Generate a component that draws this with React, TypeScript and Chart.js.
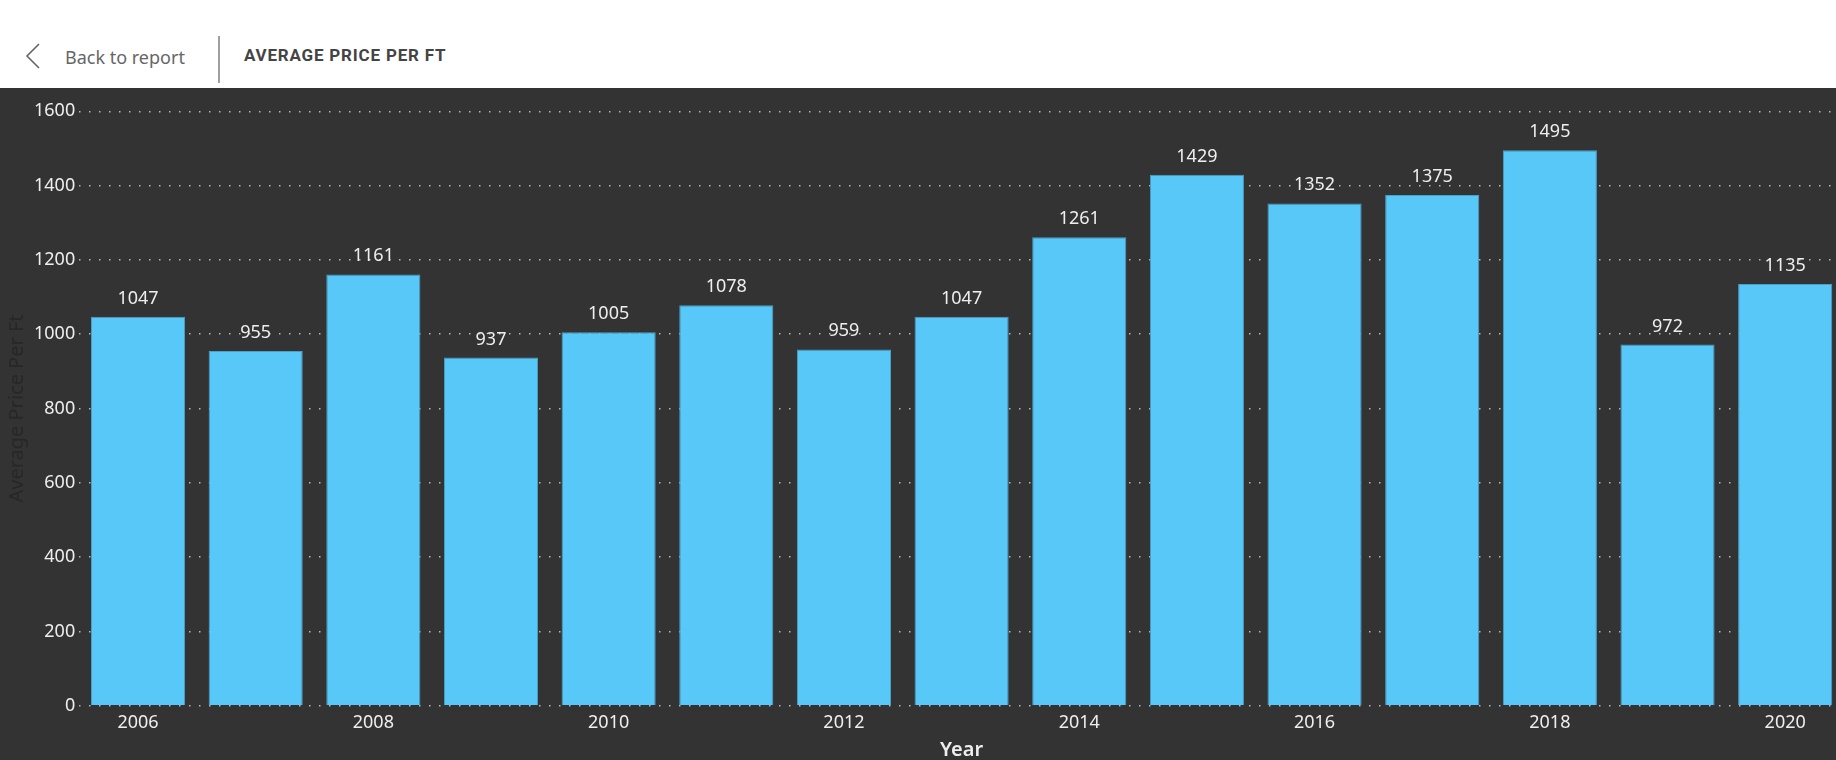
import React, { useEffect, useRef } from "react";
import { Chart, ChartConfiguration, Plugin, registerables } from "chart.js";
Chart.register(...registerables);

const years = ["2006", "2007", "2008", "2009", "2010", "2011", "2012", "2013", "2014", "2015", "2016", "2017", "2018", "2019", "2020"];
const avgPrice = [1047, 955, 1161, 937, 1005, 1078, 959, 1047, 1261, 1429, 1352, 1375, 1495, 972, 1135];
const yTicks = [0, 200, 400, 600, 800, 1000, 1200, 1400, 1600];

const FONT = "'Noto Sans', 'Open Sans', sans-serif";

// draws the value above each bar
const valueLabels: Plugin<"bar"> = {
  id: "valueLabels",
  afterDatasetsDraw(chart) {
    const ctx = chart.ctx;
    const meta = chart.getDatasetMeta(0);
    ctx.save();
    ctx.font = `18px ${FONT}`;
    ctx.fillStyle = "#eeeeee";
    ctx.textAlign = "center";
    ctx.textBaseline = "alphabetic";
    meta.data.forEach((bar: any, i) => {
      ctx.fillText(String(avgPrice[i]), bar.x, bar.y - 13);
    });
    ctx.restore();
  },
};

const PriceChart: React.FC = () => {
  const chartRef = useRef<HTMLCanvasElement>(null);

  useEffect(() => {
    if (!chartRef.current) return;
    const config: ChartConfiguration<"bar"> = {
      type: "bar",
      data: {
        labels: years,
        datasets: [
          {
            label: "Average Price Per Ft",
            data: avgPrice,
            backgroundColor: "#57c8f8",
            borderColor: "#4d9fc6",
            borderWidth: 1,
            categoryPercentage: 1,
            barPercentage: 0.8,
          },
        ],
      },
      options: {
        responsive: true,
        maintainAspectRatio: false,
        animation: false,
        layout: { padding: { top: 23.3, left: 0, right: 0, bottom: 0 } },
        plugins: {
          legend: { display: false },
          tooltip: { enabled: false },
        },
        scales: {
          x: {
            grid: { display: false, drawTicks: false },
            border: { display: false },
            ticks: {
              autoSkip: false,
              maxRotation: 0,
              padding: 6,
              color: "#eeeeee",
              font: { family: FONT, size: 18 },
              callback: (_v, i) => (i % 2 === 0 ? years[i] : ""),
            },
            title: {
              display: true,
              text: "Year",
              color: "#eeeeee",
              font: { family: FONT, size: 20, weight: 600, lineHeight: 1 },
              padding: 0,
            },
            afterFit: (scale) => {
              scale.height = 54.3;
            },
          },
          y: {
            min: 0,
            max: yTicks[yTicks.length - 1],
            afterBuildTicks: (scale) => {
              scale.ticks = yTicks.map((v) => ({ value: v }));
            },
            grid: {
              color: "rgba(230,230,230,0.75)",
              lineWidth: 1.5,
              drawTicks: false,
            },
            border: { display: false, dash: [1.5, 8.5] },
            ticks: {
              padding: 4,
              color: "#eeeeee",
              font: { family: FONT, size: 18 },
              callback: (v) => String(v),
            },
            title: {
              display: true,
              text: "Average Price Per Ft",
              color: "#272727",
              font: { family: FONT, size: 20, lineHeight: 1.2 },
              padding: { top: 5, bottom: 0 },
            },
            afterFit: (scale) => {
              scale.width = 79.2;
            },
          },
        },
      },
      plugins: [valueLabels],
    };
    const chart = new Chart(chartRef.current, config);
    return () => {
      chart.destroy();
    };
  }, []);

  return <canvas ref={chartRef}></canvas>;
};

export default function App() {
  return (
    <div
      style={{
        position: "fixed",
        left: 0,
        top: 0,
        width: 1836,
        height: 760,
        overflow: "hidden",
        background: "#ffffff",
        fontFamily: FONT,
      }}
    >
      <div style={{ position: "absolute", left: 0, top: 0, width: 1836, height: 88, background: "#ffffff" }}>
        <svg width="20" height="30" style={{ position: "absolute", left: 24, top: 41 }}>
          <polyline points="15,3 3,15 15,27" fill="none" stroke="#666666" strokeWidth="1.6" />
        </svg>
        <span
          style={{
            position: "absolute",
            left: 65,
            top: 48,
            fontSize: 18,
            lineHeight: "18px",
            color: "#666666",
            whiteSpace: "nowrap",
          }}
        >
          Back to report
        </span>
        <div style={{ position: "absolute", left: 218, top: 36, width: 2, height: 47, background: "#a0a0a0" }} />
        <span
          style={{
            position: "absolute",
            left: 244,
            top: 46.5,
            fontFamily: "Roboto, sans-serif",
            fontWeight: 700,
            fontSize: 17,
            lineHeight: "17px",
            letterSpacing: 0.8,
            color: "#444444",
            whiteSpace: "nowrap",
          }}
        >
          AVERAGE PRICE PER FT
        </span>
      </div>
      <div style={{ position: "absolute", left: 0, top: 88, width: 1844, height: 672, background: "#333333" }}>
        <PriceChart />
      </div>
    </div>
  );
}
